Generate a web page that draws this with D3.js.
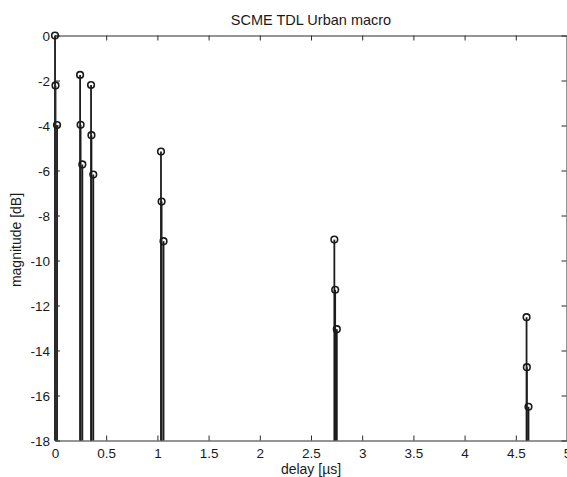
<!DOCTYPE html>
<html>
<head>
<meta charset="utf-8">
<script src="https://cdn.jsdelivr.net/npm/d3@7"></script>
<style>
  html, body { margin: 0; padding: 0; background: #fff; }
  svg { display: block; font-family: "Liberation Sans", Arial, Helvetica, sans-serif; }
</style>
</head>
<body>
<svg id="chart" width="567" height="477"></svg>
<script>
// ---- data ----
const titleText = "SCME TDL Urban macro";
const xLabel = "delay [\u00b5s]";
const yLabel = "magnitude [dB]";
const delays = [0, 0.005, 0.020, 0.245, 0.250, 0.267, 0.352, 0.356, 0.374,
                1.035, 1.041, 1.060, 2.728, 2.736, 2.752, 4.605, 4.608, 4.624];
const magnitudes = [0, -2.22, -3.98, -1.75, -3.97, -5.73, -2.20, -4.43, -6.18,
                    -5.16, -7.38, -9.14, -9.07, -11.30, -13.05, -12.52, -14.74, -16.50];
const xTicks = [0, 0.5, 1, 1.5, 2, 2.5, 3, 3.5, 4, 4.5, 5];
const xTickLabels = ["0", "0.5", "1", "1.5", "2", "2.5", "3", "3.5", "4", "4.5", "5"];
const yTicks = [-18, -16, -14, -12, -10, -8, -6, -4, -2, 0];
const yTickLabels = ["-18", "-16", "-14", "-12", "-10", "-8", "-6", "-4", "-2", "0"];
const xDomain = [0, 5];
const yDomain = [-18, 0];

// ---- layout ----
const svg = d3.select("#chart");
const mLeft = 55, mRight = 567, mTop = 35.5, mBottom = 440.5;
const x = d3.scaleLinear().domain(xDomain).range([mLeft, mRight]);
const y = d3.scaleLinear().domain(yDomain).range([mBottom, mTop]);
const axisColor = "#2a2a2a";
const textColor = "#1a1a1a";
const tickLen = 5;

// ---- stems ----
const pts = delays.map((d, i) => ({ d, m: magnitudes[i] }));
const stems = svg.append("g");
stems.selectAll("line")
  .data(pts)
  .join("line")
  .attr("x1", p => x(p.d)).attr("x2", p => x(p.d))
  .attr("y1", p => y(p.m)).attr("y2", y(yDomain[0]))
  .attr("stroke", "#1c1c1c")
  .attr("stroke-width", 1.8);

// ---- axes (box with inward ticks) ----
const gx = svg.append("g").attr("transform", `translate(0,${mBottom})`)
  .call(d3.axisBottom(x).tickValues(xTicks).tickFormat((d, i) => xTickLabels[i])
        .tickSizeInner(-tickLen).tickSizeOuter(0).tickPadding(8));
const gxt = svg.append("g").attr("transform", `translate(0,${mTop})`)
  .call(d3.axisTop(x).tickValues(xTicks).tickFormat("")
        .tickSizeInner(-tickLen).tickSizeOuter(0));
const gy = svg.append("g").attr("transform", `translate(${mLeft},0)`)
  .call(d3.axisLeft(y).tickValues(yTicks).tickFormat((d, i) => yTickLabels[i])
        .tickSizeInner(-tickLen).tickSizeOuter(0).tickPadding(5));
const gyr = svg.append("g").attr("transform", `translate(${mRight - 0.5},0)`)
  .call(d3.axisRight(y).tickValues(yTicks).tickFormat("")
        .tickSizeInner(-tickLen).tickSizeOuter(0));

[gx, gxt, gy, gyr].forEach(g => {
  g.selectAll(".domain").attr("stroke", axisColor).attr("stroke-width", 1);
  g.selectAll(".tick line").attr("stroke", axisColor).attr("stroke-width", 1);
  g.selectAll("text").attr("fill", textColor).attr("font-size", 13.5)
    .attr("font-family", "Liberation Sans, Arial, sans-serif");
});
gx.selectAll("text").attr("dy", "0.71em");
gy.selectAll("text").attr("dy", "0.36em");

// ---- markers ----
svg.append("g").selectAll("circle")
  .data(pts)
  .join("circle")
  .attr("cx", p => x(p.d)).attr("cy", p => y(p.m))
  .attr("r", 3.3)
  .attr("fill", "none")
  .attr("stroke", "#1a1a1a")
  .attr("stroke-width", 1.6);

// ---- labels ----
svg.append("text")
  .attr("x", (mLeft + mRight) / 2).attr("y", 25)
  .attr("text-anchor", "middle").attr("font-size", 14.5).attr("fill", textColor)
  .text(titleText);
svg.append("text")
  .attr("x", (mLeft + mRight) / 2).attr("y", 474)
  .attr("text-anchor", "middle").attr("font-size", 14).attr("fill", textColor)
  .text(xLabel);
svg.append("text")
  .attr("transform", `translate(21,240) rotate(-90)`)
  .attr("text-anchor", "middle").attr("font-size", 14).attr("fill", textColor)
  .text(yLabel);
</script>
</body>
</html>
